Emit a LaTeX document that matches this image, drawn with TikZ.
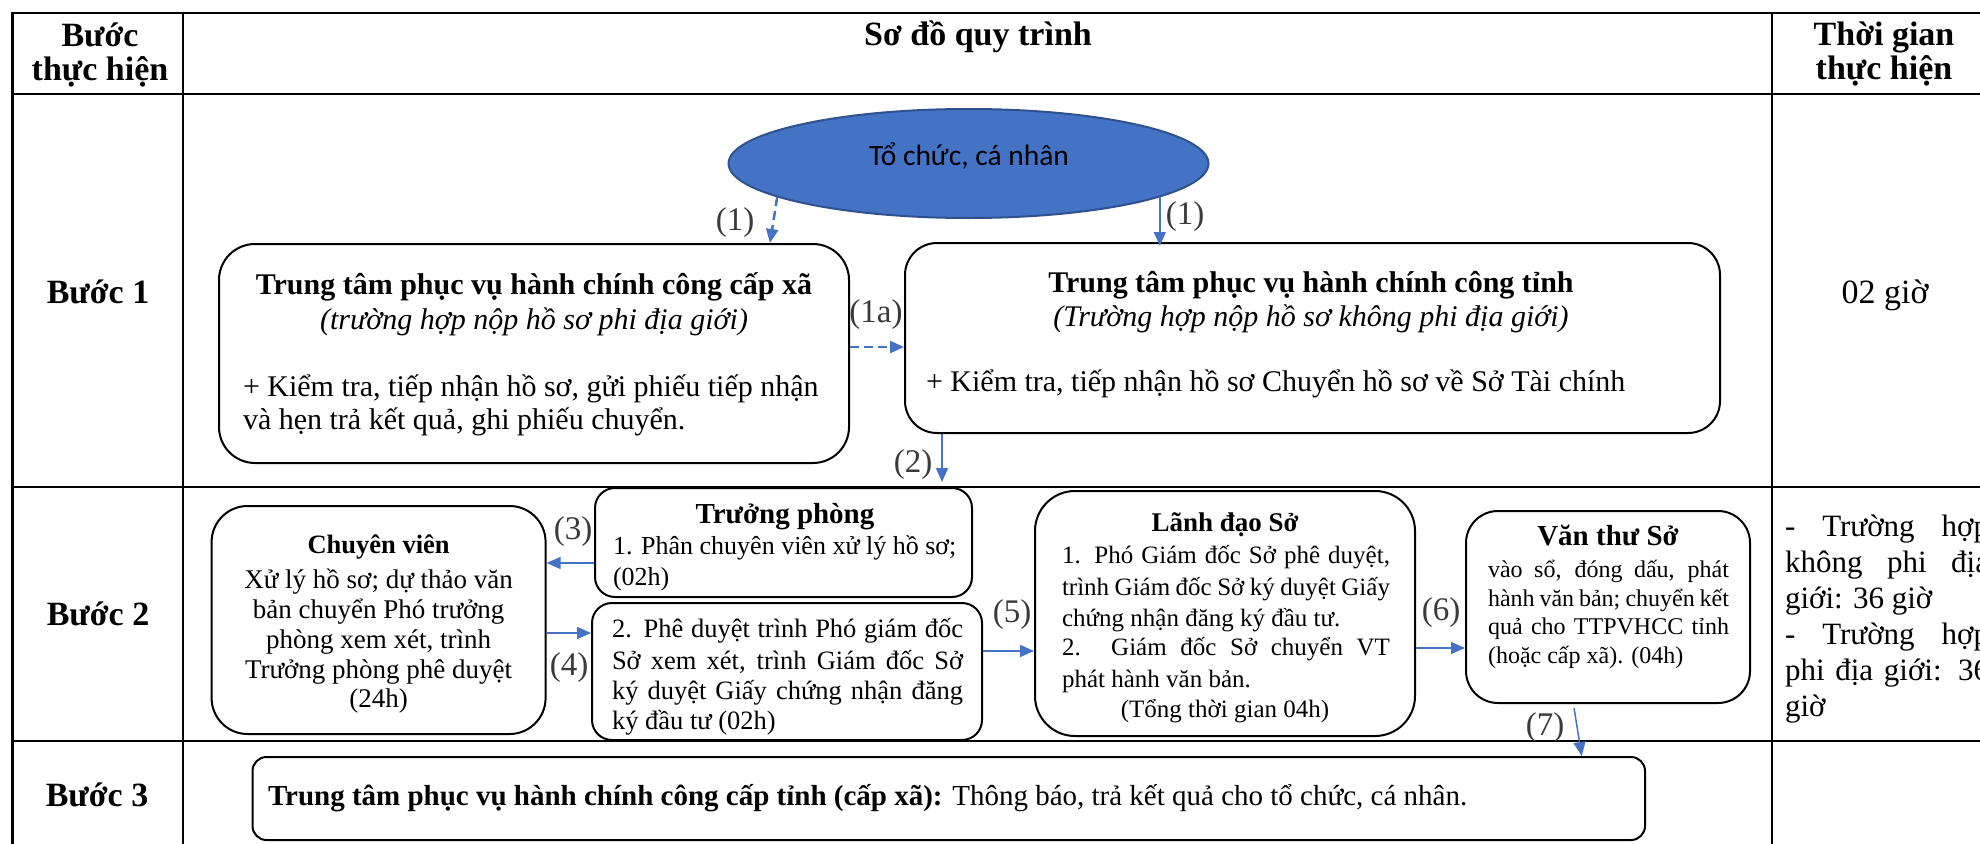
\documentclass[tikz,border=0pt]{standalone}
\usepackage{fontspec}
\setmainfont{Liberation Serif}
\newfontfamily\sansf{Carlito}
\usetikzlibrary{arrows.meta,shapes.geometric,calc}
\definecolor{arrblue}{HTML}{4472C4}
\definecolor{ellfill}{HTML}{4472C4}
\definecolor{elldraw}{HTML}{2F528F}
\definecolor{lblgray}{HTML}{3A3A3A}
\newcommand\fsz[1]{\fontsize{#1}{#1}\selectfont}
\tikzset{
  tbl/.style={line width=2.7pt, line cap=rect},
  rbox/.style={draw=black, line width=2pt, rectangle, inner sep=0pt, rounded corners=#1},
  txt/.style={inner sep=0pt, outer sep=0pt, anchor=base},
  txtl/.style={txt, anchor=base west},
  arr/.style={draw=arrblue, line width=1.5pt, -{Triangle[length=14pt,width=12pt]}},
  darr/.style={arr, line width=2.5pt, dash pattern=on 9pt off 5pt},
  lbl/.style={inner sep=0pt, font=\fsz{33}, text=lblgray},
}
\begin{document}
\begin{tikzpicture}[x=1pt,y=-1pt]
\useasboundingbox (0,0) rectangle (1980,843);
\clip (0,0) rectangle (1980,843);
% table grid
\draw[tbl] (12.5,13) -- (2010,13);
\draw[tbl] (12.5,94) -- (2010,94);
\draw[tbl] (12.5,487) -- (2010,487);
\draw[tbl] (12.5,741) -- (2010,741);
\draw[tbl] (12.5,13) -- (12.5,860);
\draw[tbl] (183,13) -- (183,860);
\draw[tbl] (1772,13) -- (1772,860);
% header
\node[txt, font=\fsz{34}\bfseries] (h1a) at (100,46.5) {Bước};
\node[txt, font=\fsz{34}\bfseries] (h1b) at (100,81) {thực hiện};
\node[txt, font=\fsz{34}\bfseries] (h2) at (978,45.5) {Sơ đồ quy trình};
\node[txt, font=\fsz{34}\bfseries] (h3a) at (1884,45.5) {Thời gian};
\node[txt, font=\fsz{34}\bfseries] (h3b) at (1884,80) {thực hiện};
% step labels
\node[txt, font=\fsz{34}\bfseries] (s1) at (98,303) {Bước 1};
\node[txt, font=\fsz{34}\bfseries] (s2) at (98,625) {Bước 2};
\node[txt, font=\fsz{34}\bfseries] (s3) at (97,806) {Bước 3};
\node[txt, font=\fsz{34}] (t1) at (1885,303) {02 giờ};
% col 3 row 2
\node[txtl, font=\fsz{31}] (g1) at (1785,536) {\makebox[204pt][s]{- Trường hợp}};
\node[txtl, font=\fsz{31}] (g2) at (1785,572) {\makebox[204pt][s]{không phi địa}};
\node[txtl, font=\fsz{31}] (g3) at (1785,608) {giới: 36 giờ};
\node[txtl, font=\fsz{31}] (g4) at (1785,644) {\makebox[204pt][s]{- Trường hợp}};
\node[txtl, font=\fsz{31}] (g5) at (1785,680) {\makebox[204pt][s]{phi địa giới: 36}};
\node[txtl, font=\fsz{31}] (g6) at (1785,716) {giờ};
% ellipse
\node[ellipse, fill=ellfill, draw=elldraw, line width=2pt, minimum width=480pt, minimum height=109pt, inner sep=0pt] (ell) at (968.5,163.5) {};
\node[txt, font=\sansf\fsz{29.5}] (ellt) at (969,165) {Tổ chức, cá nhân};
% boxes
\node[rbox=36pt, minimum width=630pt, minimum height=219pt] (boxA) at (534,353.5) {};
\node[rbox=32pt, minimum width=815pt, minimum height=190pt] (boxB) at (1312.5,338) {};
\node[rbox=36pt, minimum width=334pt, minimum height=228pt] (cv) at (378.6,620) {};
\node[rbox=20pt, minimum width=377pt, minimum height=109pt] (tp) at (783.5,542.5) {};
\node[rbox=20pt, minimum width=390pt, minimum height=137pt] (p2) at (787,671.5) {};
\node[rbox=40pt, minimum width=380pt, minimum height=245pt] (ld) at (1225,613.5) {};
\node[rbox=32pt, minimum width=284pt, minimum height=192pt] (vt) at (1608,607) {};
\node[rbox=14pt, minimum width=1392.5pt, minimum height=83pt] (r3) at (948.75,798.5) {};
% box A text
\node[txt, font=\fsz{30}\bfseries] (a1) at (534,294) {Trung tâm phục vụ hành chính công cấp xã};
\node[txt, font=\fsz{30}\itshape] (a2) at (534,329) {(trường hợp nộp hồ sơ phi địa giới)};
\node[txtl, font=\fsz{30}] (a3) at (243,396.5) {+ Kiểm tra, tiếp nhận hồ sơ, gửi phiếu tiếp nhận};
\node[txtl, font=\fsz{30}] (a4) at (243,429.5) {và hẹn trả kết quả, ghi phiếu chuyển.};
% box B text
\node[txt, font=\fsz{30}\bfseries] (b1) at (1311,292) {Trung tâm phục vụ hành chính công tỉnh};
\node[txt, font=\fsz{30}\itshape] (b2) at (1311,326) {(Trường hợp nộp hồ sơ không phi địa giới)};
\node[txtl, font=\fsz{30}] (b3) at (926,391) {+ Kiểm tra, tiếp nhận hồ sơ Chuyển hồ sơ về Sở Tài chính};
% chuyen vien
\node[txt, font=\fsz{26.5}\bfseries] (c0) at (378.6,553) {Chuyên viên};
\node[txt, font=\fsz{27}] (c1) at (378.6,588) {Xử lý hồ sơ; dự thảo văn};
\node[txt, font=\fsz{27}] (c2) at (378.6,618.5) {bản chuyển Phó trưởng};
\node[txt, font=\fsz{27}] (c3) at (378.6,648.5) {phòng xem xét, trình};
\node[txt, font=\fsz{27}] (c4) at (378.6,678) {Trưởng phòng phê duyệt};
\node[txt, font=\fsz{27}] (c5) at (378.6,707.5) {(24h)};
% truong phong
\node[txt, font=\fsz{29}\bfseries] (tp0) at (785,523) {Trưởng phòng};
\node[txtl, font=\fsz{26}] (tp1) at (613,554) {1. Phân chuyên viên xử lý hồ sơ;};
\node[txtl, font=\fsz{26}] (tp2) at (613,585) {(02h)};
% phe duyet
\node[txtl, font=\fsz{26.5}] (p21) at (612,637.5) {\makebox[351pt][s]{2. Phê duyệt trình Phó giám đốc}};
\node[txtl, font=\fsz{26.5}] (p22) at (612,669.5) {\makebox[351pt][s]{Sở xem xét, trình Giám đốc Sở}};
\node[txtl, font=\fsz{26.5}] (p23) at (612,699.5) {\makebox[351pt][s]{ký duyệt Giấy chứng nhận đăng}};
\node[txtl, font=\fsz{26.5}] (p24) at (612,729.5) {ký đầu tư (02h)};
% lanh dao
\node[txt, font=\fsz{27}\bfseries] (ld0) at (1225,531.5) {Lãnh đạo Sở};
\node[txtl, font=\fsz{25}] (ld1) at (1062,563) {\makebox[328pt][s]{1. Phó Giám đốc Sở phê duyệt,}};
\node[txtl, font=\fsz{25}] (ld2) at (1062,595) {\makebox[328pt][s]{trình Giám đốc Sở ký duyệt Giấy}};
\node[txtl, font=\fsz{25}] (ld3) at (1062,626) {chứng nhận đăng ký đầu tư.};
\node[txtl, font=\fsz{25}] (ld4) at (1062,655) {\makebox[328pt][s]{2. Giám đốc Sở chuyển VT}};
\node[txtl, font=\fsz{25}] (ld5) at (1062,687) {phát hành văn bản.};
\node[txt, font=\fsz{25}] (ld6) at (1225,717) {(Tổng thời gian 04h)};
% van thu
\node[txt, font=\fsz{29}\bfseries] (vt0) at (1608,545) {Văn thư Sở};
\node[txtl, font=\fsz{24}] (vt1) at (1488,577.5) {\makebox[241pt][s]{vào sổ, đóng dấu, phát}};
\node[txtl, font=\fsz{24}] (vt2) at (1488,606) {\makebox[241pt][s]{hành văn bản; chuyển kết}};
\node[txtl, font=\fsz{24}] (vt3) at (1488,634.5) {\makebox[241pt][s]{quả cho TTPVHCC tỉnh}};
\node[txtl, font=\fsz{24}] (vt4) at (1488,663.5) {(hoặc cấp xã). (04h)};
% row 3
\node[txtl, font=\fsz{29}] (r3t) at (268,805) {\textbf{Trung tâm phục vụ hành chính công cấp tỉnh (cấp xã):} Thông báo, trả kết quả cho tổ chức, cá nhân.};
% connectors
\coordinate (x2) at (942,0);
\draw[darr] (ell.190) -- ([xshift=236pt]boxA.north);
\draw[arr] (ell.-10.5) -- ([yshift=-4pt]ell.-10.5 |- boxB.north);
\draw[darr] ([yshift=6.5pt]boxA.east) -- ([yshift=6.5pt]boxA.east -| boxB.west);
\draw[arr, shorten >=5pt] (x2 |- boxB.south) -- (x2 |- tp.north);
\draw[arr] ([yshift=-20.5pt]tp.west) -- ([yshift=-20.5pt]tp.west -| cv.east);
\draw[arr] ([yshift=-13pt]cv.east) -- ([yshift=-13pt]cv.east -| p2.west);
\draw[arr] ([yshift=20.5pt]p2.east) -- ([yshift=20.5pt]p2.east -| ld.west);
\draw[arr] ([yshift=-34.5pt]ld.east) -- ([yshift=-34.5pt]ld.east -| vt.west);
\draw[arr] ([xshift=-34pt,yshift=-4pt]vt.south) -- ([xshift=633pt]r3.north);
% connector labels
\node[lbl] (l1) at (735,223) {(1)};
\node[lbl] (l1b) at (1185,217) {(1)};
\node[lbl] (l1c) at (876,315) {(1a)};
\node[lbl] (l2) at (913,465) {(2)};
\node[lbl] (l3) at (573,532) {(3)};
\node[lbl] (l4) at (569,668) {(4)};
\node[lbl] (l5) at (1012,615) {(5)};
\node[lbl] (l6) at (1441,613) {(6)};
\node[lbl] (l7) at (1545,728) {(7)};
\end{tikzpicture}
\end{document}
